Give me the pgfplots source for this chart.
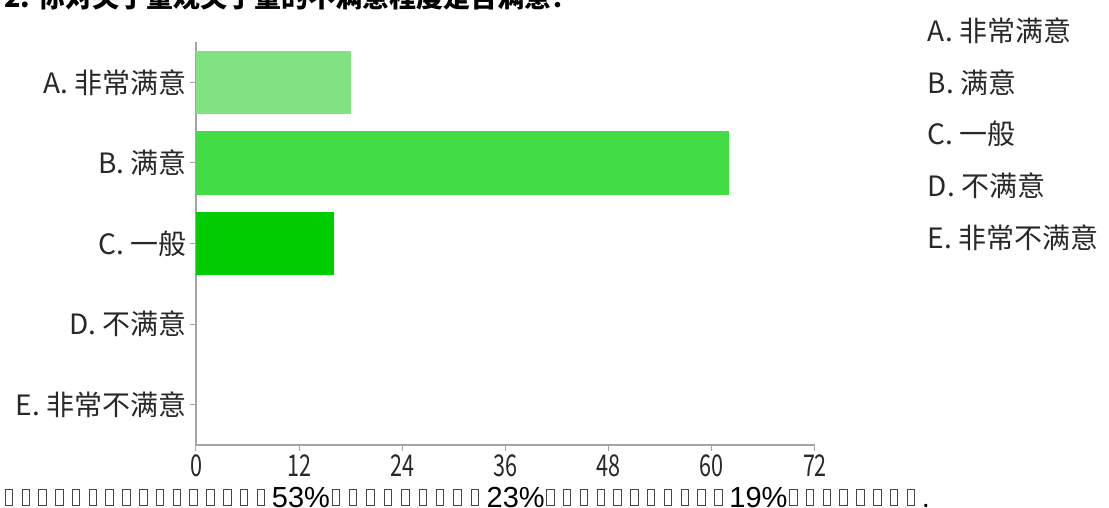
\documentclass[border=0pt]{standalone}
\usepackage{pgfplots}
\pgfplotsset{compat=1.18}
\usepackage{graphicx}
\usepackage{fontspec}
\setmainfont{Liberation Sans}
\newfontfamily\cjk{Noto Sans CJK SC}
\definecolor{barA}{RGB}{128,226,128}
\definecolor{barB}{RGB}{68,220,68}
\definecolor{barC}{RGB}{0,204,0}
\definecolor{axgray}{RGB}{165,162,172}
\definecolor{txt}{RGB}{40,40,40}
\definecolor{tofugray}{RGB}{70,70,70}
\newcommand\tofu[1][16.8pt]{\makebox[#1][l]{\hspace{1.5pt}\raisebox{2pt}{\color{tofugray}\fboxsep0pt\fboxrule1pt\fbox{\rule{0pt}{15pt}\hspace{6.5pt}}}}}
\newcommand\tofuN[2][16.8pt]{\foreach \i in {1,...,#2}{\tofu[#1]}}
\begin{document}
\begin{tikzpicture}
\node[anchor=base west, inner sep=0pt, font=\cjk\bfseries\fontsize{27}{27}\selectfont] at (4pt,-7pt) {2. 你对关于量观关于量的不满意程度是否满意？};
\begin{axis}[
  at={(196pt,-445pt)}, anchor=south west,
  scale only axis, width=619pt, height=403pt,
  xmin=0, xmax=72, ymin=-0.5, ymax=4.5,
  xtick={0,12,...,72}, ytick={0,1,2,3,4},
  yticklabels={E. 非常不满意, D. 不满意, C. 一般, B. 满意, A. 非常满意},
  axis lines*=left,
  axis line style={axgray, line width=1.3pt},
  tick style={axgray, line width=1pt},
  major tick length=6pt, tick align=outside,
  yticklabel style={font=\cjk\fontsize{28}{28}\selectfont, text=txt},
  xticklabel style={font=\cjk\fontsize{30}{30}\selectfont, text=txt},
  xticklabel={\scalebox{0.72}[1]{\pgfmathprintnumber[assume math mode=true]{\tick}}},
  legend entries={A. 非常满意, B. 满意, C. 一般, D. 不满意, E. 非常不满意},
  legend cell align=left,
  legend style={at={(1.179,1.066)}, anchor=north west, draw=none, fill=none,
    font=\cjk\fontsize{28}{28}\selectfont, text=txt, row sep=22.5pt, inner sep=0pt,
    nodes={inner sep=2pt}},
]
\addlegendimage{legend image code/.code={}}
\addlegendimage{legend image code/.code={}}
\addlegendimage{legend image code/.code={}}
\addlegendimage{legend image code/.code={}}
\addlegendimage{legend image code/.code={}}
\addplot[xbar, bar width=63.5pt, bar shift=0pt, fill=barA, draw=none] coordinates {(18,4)};
\addplot[xbar, bar width=63.5pt, bar shift=0pt, fill=barB, draw=none] coordinates {(62,3)};
\addplot[xbar, bar width=63.5pt, bar shift=0pt, fill=barC, draw=none] coordinates {(16,2)};
\addplot[xbar, bar width=63.5pt, bar shift=0pt, fill=none, draw=none] coordinates {(0,1) (0,0)};
\end{axis}
\node[anchor=base west, inner sep=0pt, font=\fontsize{29}{29}\selectfont] at (3pt,-507pt)
  {\tofuN{16}53\%\tofuN[17.4pt]{9}23\%\tofuN{11}19\%\tofuN{8}.};
\pgfresetboundingbox
\path[use as bounding box] (0pt,0pt) rectangle (1109pt,-507pt);
\end{tikzpicture}
\end{document}
